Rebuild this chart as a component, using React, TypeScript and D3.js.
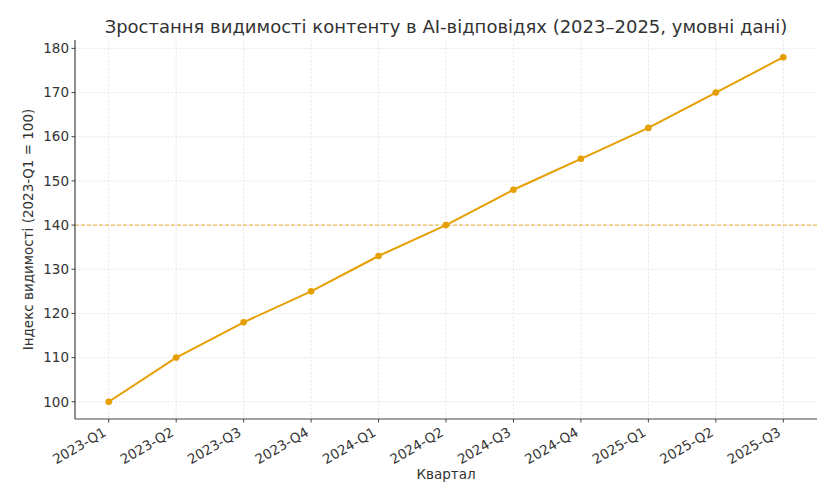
import React from 'react'
import * as d3 from 'd3'

const quarters = [
  '2023-Q1', '2023-Q2', '2023-Q3', '2023-Q4',
  '2024-Q1', '2024-Q2', '2024-Q3', '2024-Q4',
  '2025-Q1', '2025-Q2', '2025-Q3'
]
const visibility = [100, 110, 118, 125, 133, 140, 148, 155, 162, 170, 178]
const yTicks = [100, 110, 120, 130, 140, 150, 160, 170, 180]
const refLevel = 140

const title = 'Зростання видимості контенту в AI-відповідях (2023–2025, умовні дані)'
const xLabel = 'Квартал'
const yLabel = 'Індекс видимості (2023-Q1 = 100)'

const W = 839
const H = 497
const margin = { top: 40, right: 22, bottom: 78, left: 75 }
const font = '"DejaVu Sans", sans-serif'
const lineColor = '#E69F00'
const textColor = '#333333'
const gridColor = '#e3e3e3'

export default function App() {
  const innerW = W - margin.left - margin.right
  const innerH = H - margin.top - margin.bottom

  // matplotlib-like 5% padding on both axes
  const xPad = (quarters.length - 1) * 0.05
  const x = d3.scaleLinear()
    .domain([-xPad, quarters.length - 1 + xPad])
    .range([0, innerW])
  const yMin = d3.min(visibility)!
  const yMax = d3.max(visibility)!
  const yPad = (yMax - yMin) * 0.05
  const y = d3.scaleLinear()
    .domain([yMin - yPad, yMax + yPad])
    .range([innerH, 0])

  const line = d3.line<number>()
    .x((_, i) => x(i))
    .y(d => y(d))

  return (
    <svg
      width={W}
      height={H}
      style={{ position: 'absolute', left: 0, top: 0, background: '#fff' }}
      fontFamily={font}
    >
      <text
        x={margin.left + innerW / 2}
        y={33}
        textAnchor="middle"
        fontSize={18}
        fill={textColor}
      >
        {title}
      </text>
      <g transform={`translate(${margin.left},${margin.top})`}>
        {/* grid */}
        {quarters.map((q, i) => (
          <line
            key={'gx' + q}
            x1={x(i)} x2={x(i)} y1={0} y2={innerH}
            stroke={gridColor} strokeWidth={0.8} strokeDasharray="2.5,1.5"
          />
        ))}
        {yTicks.map(t => (
          <line
            key={'gy' + t}
            x1={0} x2={innerW} y1={y(t)} y2={y(t)}
            stroke={gridColor} strokeWidth={0.8} strokeDasharray="2.5,1.5"
          />
        ))}

        {/* reference level */}
        <line
          x1={0} x2={innerW} y1={y(refLevel)} y2={y(refLevel)}
          stroke={lineColor} strokeOpacity={0.8} strokeWidth={1} strokeDasharray="4,2"
        />

        {/* series */}
        <path d={line(visibility) ?? ''} fill="none" stroke={lineColor} strokeWidth={2} strokeLinejoin="round" />
        {visibility.map((v, i) => (
          <circle key={'p' + i} cx={x(i)} cy={y(v)} r={3.3} fill={lineColor} />
        ))}

        {/* axes */}
        <line x1={0} x2={0} y1={0} y2={innerH} stroke="#444" strokeWidth={1.2} />
        <line x1={0} x2={innerW} y1={innerH} y2={innerH} stroke="#444" strokeWidth={1.2} />

        {yTicks.map(t => (
          <g key={'yt' + t} transform={`translate(0,${y(t)})`}>
            <line x1={-3.5} x2={0} stroke="#444" strokeWidth={1} />
            <text x={-6} dy="0.35em" textAnchor="end" fontSize={13.5} fill={textColor}>{t}</text>
          </g>
        ))}
        {quarters.map((q, i) => (
          <g key={'xt' + q} transform={`translate(${x(i)},${innerH})`}>
            <line y1={0} y2={3.5} stroke="#444" strokeWidth={1} />
            <text
              transform="translate(-1.5,16) rotate(-30)"
              textAnchor="end"
              fontSize={13.5}
              fill={textColor}
            >
              {q}
            </text>
          </g>
        ))}

        <text
          x={innerW / 2}
          y={innerH + 60}
          textAnchor="middle"
          fontSize={13.5}
          fill={textColor}
        >
          {xLabel}
        </text>
        <text
          transform={`translate(${-42},${innerH / 2}) rotate(-90)`}
          textAnchor="middle"
          fontSize={13.5}
          fill={textColor}
        >
          {yLabel}
        </text>
      </g>
    </svg>
  )
}
